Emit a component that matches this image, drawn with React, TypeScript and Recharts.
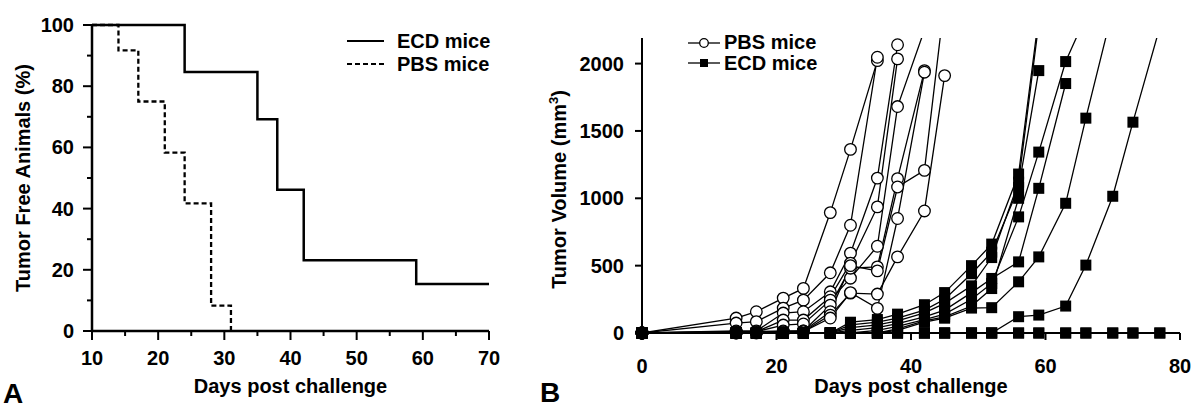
import { LineChart, ComposedChart, Line, Scatter, XAxis, YAxis, Label } from "recharts";

const FONT = "'Liberation Sans', Arial, Helvetica, sans-serif";

// ---- panel A: tumor free animals (Kaplan-Meier) ----
const KM_ECD_DAYS = [10, 24, 35, 38, 42, 59, 70];
const KM_ECD_PCT = [100, 84.6, 69.2, 46.2, 23.1, 15.4, 15.4];
const KM_PBS_DAYS = [10, 14, 17, 21, 24, 28, 31];
const KM_PBS_PCT = [100, 91.7, 75, 58.3, 41.7, 8.3, 0];
const A_X_TICKS = [10, 15, 20, 25, 30, 35, 40, 45, 50, 55, 60, 65, 70];
const A_Y_TICKS = [0, 10, 20, 30, 40, 50, 60, 70, 80, 90, 100];

// ---- panel B: tumor volume per mouse ----
const DAYS = [0, 14, 17, 21, 24, 28, 31, 35, 38, 42, 45, 49, 52, 56, 59, 63, 66, 70, 73, 77];

const PBS_MICE = [
  [0, 111, 158, 259, 331, 894, 1363, 2022],
  [0, 74, 84, 185, 244, 447, 800, 2047],
  [0, 15, 15, 148, 158, 306, 593, 1150, 2140],
  [0, 10, 10, 96, 96, 269, 519, 936, 2035],
  [0, 10, 10, 59, 67, 244, 407, 644, 1681, 2250],
  [0, 5, 10, 15, 15, 207, 481, 491, 1146, 1948],
  [0, 5, 5, 10, 15, 158, 500, 461, 1084, 1207, 2470],
  [0, 0, 5, 10, 10, 133, 296, 289, 565, 906, 1911],
  [0, 0, 0, 5, 10, 111, 300, 183, 850, 1936],
];

const ECD_MICE = [
  [0, 0, 0, 0, 0, 0, 0, 0, 0, 0, 0, 0, 0, 0, 0, 0, 0, 0, 0, 0],
  [0, 0, 0, 0, 0, 0, 0, 0, 0, 0, 0, 0, 0, 0, 0, 0, 0, 0, 0, 0],
  [0, 0, 0, 0, 0, 0, 0, 0, 0, 0, 0, 0, 0, 121, 133, 200, 504, 1015, 1565, 2270],
  [0, 0, 0, 0, 0, 0, 0, 0, 20, 80, 110, 185, 188, 380, 565, 963, 1595, 2400],
  [0, 0, 0, 0, 0, 0, 20, 40, 70, 120, 170, 300, 405, 528, 1074, 1852],
  [0, 0, 0, 0, 0, 0, 0, 20, 50, 100, 140, 250, 368, 862, 1343, 2015, 2350],
  [0, 0, 0, 0, 0, 0, 80, 100, 140, 210, 300, 500, 660, 1180, 2350],
  [0, 0, 0, 0, 0, 0, 60, 80, 110, 170, 250, 440, 600, 1080, 1948],
  [0, 0, 0, 0, 0, 0, 40, 60, 90, 150, 220, 350, 560, 1120, 2300],
  [0, 0, 0, 0, 0, 0, 0, 0, 30, 90, 120, 200, 330, 1000],
];

const B_X_TICKS = [0, 20, 40, 60, 80];
const B_Y_TICKS = [0, 500, 1000, 1500, 2000];
const Y_MAX = 2190;

const toSeries = (days: number[], vals: number[]) => vals.map((v, i) => ({ day: days[i], v }));

const ecdKm = toSeries(KM_ECD_DAYS, KM_ECD_PCT);
const pbsKm = toSeries(KM_PBS_DAYS, KM_PBS_PCT);

const pbsLines = PBS_MICE.map((m) => toSeries(DAYS, m));
const ecdLines = ECD_MICE.map((m) => toSeries(DAYS, m));
// markers above the top of the axis are not shown
const pbsPoints = pbsLines.flat().filter((p) => p.v <= Y_MAX);
const ecdPoints = ecdLines.flat().filter((p) => p.v <= Y_MAX);

const A_TICK_SIZE = 9;
const A_X_MARGIN = 12;
const A_Y_MARGIN = 9;

const tickText = { fontSize: 20, fontWeight: 700, fill: "#000", fontFamily: FONT };

const ATickX = (props: any) => {
  const { x, y, payload } = props;
  const major = payload.value % 10 === 0;
  const y0 = y - A_TICK_SIZE - A_X_MARGIN;
  return (
    <g>
      <line x1={x} x2={x} y1={y0} y2={y0 + (major ? 9 : 5)} stroke="#000" strokeWidth={2} />
      {major && (
        <text x={x} y={y0 + 34} textAnchor="middle" {...tickText}>
          {payload.value}
        </text>
      )}
    </g>
  );
};

const ATickY = (props: any) => {
  const { x, y, payload } = props;
  const major = payload.value % 20 === 0;
  const x0 = x + A_TICK_SIZE + A_Y_MARGIN;
  return (
    <g>
      <line x1={x0} x2={x0 - (major ? 9 : 5)} y1={y} y2={y} stroke="#000" strokeWidth={2} />
      {major && (
        <text x={x0 - 18} y={y + 7} textAnchor="end" {...tickText}>
          {payload.value}
        </text>
      )}
    </g>
  );
};

const xTitle = (p: any) => {
  const vb = p.viewBox;
  return (
    <text x={vb.x + vb.width / 2} y={vb.y + vb.height - 16} textAnchor="middle" {...tickText}>
      Days post challenge
    </text>
  );
};

const aYTitle = (p: any) => {
  const vb = p.viewBox;
  const cx = vb.x + 30;
  const cy = vb.y + vb.height / 2;
  return (
    <text x={cx} y={cy} transform={`rotate(-90 ${cx} ${cy})`} textAnchor="middle" {...tickText}>
      Tumor Free Animals (%)
    </text>
  );
};

const bYTitle = (p: any) => {
  const vb = p.viewBox;
  const cx = vb.x + 26;
  const cy = vb.y + vb.height / 2 + 4;
  return (
    <text x={cx} y={cy} transform={`rotate(-90 ${cx} ${cy})`} textAnchor="middle" {...tickText}>
      Tumor Volume (mm
      <tspan dy={-8} fontSize={13}>3</tspan>
      <tspan dy={8}>)</tspan>
    </text>
  );
};

const circleShape = (p: any) => (
  <circle cx={p.cx} cy={p.cy} r={5.8} fill="#fff" stroke="#000" strokeWidth={1.3} />
);
const squareShape = (p: any) => <rect x={p.cx - 5.5} y={p.cy - 5.5} width={11} height={11} fill="#000" />;

function PanelA() {
  return (
    <LineChart width={540} height={409} margin={{ top: 25, right: 51, bottom: 0, left: 0 }}>
      <XAxis
        type="number"
        dataKey="day"
        domain={[10, 70]}
        ticks={A_X_TICKS}
        interval={0}
        height={78}
        tickLine={false}
        tickSize={A_TICK_SIZE}
        tickMargin={A_X_MARGIN}
        tick={ATickX}
        axisLine={{ stroke: "#000", strokeWidth: 2.5 }}
      >
        <Label content={xTitle} />
      </XAxis>
      <YAxis
        type="number"
        domain={[0, 100]}
        ticks={A_Y_TICKS}
        interval={0}
        width={92}
        tickLine={false}
        tickSize={A_TICK_SIZE}
        tickMargin={A_Y_MARGIN}
        tick={ATickY}
        axisLine={{ stroke: "#000", strokeWidth: 2.5 }}
      >
        <Label content={aYTitle} />
      </YAxis>
      <Line
        data={pbsKm}
        dataKey="v"
        type="stepAfter"
        stroke="#000"
        strokeWidth={2.3}
        strokeDasharray="5 3"
        dot={false}
        isAnimationActive={false}
      />
      <Line
        data={ecdKm}
        dataKey="v"
        type="stepAfter"
        stroke="#000"
        strokeWidth={2.5}
        dot={false}
        isAnimationActive={false}
      />
    </LineChart>
  );
}

function PanelB() {
  return (
    <ComposedChart width={660} height={409} margin={{ top: 38, right: 20, bottom: 0, left: 0 }}>
      <XAxis
        type="number"
        dataKey="day"
        domain={[0, 80]}
        ticks={B_X_TICKS}
        interval={0}
        height={76}
        tickSize={7}
        tickMargin={19}
        tick={tickText}
        tickLine={{ stroke: "#000", strokeWidth: 2 }}
        axisLine={{ stroke: "#000", strokeWidth: 2 }}
      >
        <Label content={xTitle} />
      </XAxis>
      <YAxis
        yAxisId="main"
        type="number"
        dataKey="v"
        domain={[0, Y_MAX]}
        ticks={B_Y_TICKS}
        interval={0}
        width={102}
        tickSize={7}
        tickMargin={11}
        tick={tickText}
        tickLine={{ stroke: "#000", strokeWidth: 2 }}
        axisLine={{ stroke: "#000", strokeWidth: 2 }}
      >
        <Label content={bYTitle} />
      </YAxis>
      <YAxis yAxisId="over" hide type="number" domain={[0, Y_MAX]} allowDataOverflow />
      {pbsLines.map((d, i) => (
        <Line
          key={`p${i}`}
          yAxisId="over"
          data={d}
          dataKey="v"
          stroke="#000"
          strokeWidth={1.3}
          dot={false}
          isAnimationActive={false}
        />
      ))}
      {ecdLines.map((d, i) => (
        <Line
          key={`e${i}`}
          yAxisId="over"
          data={d}
          dataKey="v"
          stroke="#000"
          strokeWidth={1.3}
          dot={false}
          isAnimationActive={false}
        />
      ))}
      <Scatter yAxisId="main" data={pbsPoints} shape={circleShape} isAnimationActive={false} />
      <Scatter yAxisId="main" data={ecdPoints} shape={squareShape} isAnimationActive={false} />
    </ComposedChart>
  );
}

function Legends() {
  const t = { fontSize: 20, fontWeight: 700, fill: "#000", fontFamily: FONT };
  return (
    <svg width={1200} height={409} style={{ position: "absolute", left: 0, top: 0, pointerEvents: "none" }}>
      <line x1={347} x2={384} y1={41} y2={41} stroke="#000" strokeWidth={2} />
      <text x={397} y={48} {...t}>ECD mice</text>
      <line x1={347} x2={384} y1={64} y2={64} stroke="#000" strokeWidth={2} strokeDasharray="5 3" />
      <text x={397} y={71} {...t}>PBS mice</text>

      <line x1={688} x2={720} y1={43} y2={43} stroke="#000" strokeWidth={1.3} />
      <circle cx={704} cy={43} r={4.3} fill="#fff" stroke="#000" strokeWidth={1.3} />
      <text x={724} y={49} {...t}>PBS mice</text>
      <line x1={688} x2={720} y1={63} y2={63} stroke="#000" strokeWidth={1.3} />
      <rect x={700} y={59} width={8} height={8} fill="#000" />
      <text x={724} y={70} {...t}>ECD mice</text>

      <text x={3} y={403} {...t} fontSize={28}>A</text>
      <text x={540} y={402} {...t} fontSize={28}>B</text>
    </svg>
  );
}

export default function App() {
  return (
    <div style={{ position: "absolute", left: 0, top: 0, width: 1200, height: 409, background: "#fff", fontFamily: FONT }}>
      <div style={{ position: "absolute", left: 0, top: 0 }}>
        <PanelA />
      </div>
      <div style={{ position: "absolute", left: 540, top: 0 }}>
        <PanelB />
      </div>
      <Legends />
    </div>
  );
}
